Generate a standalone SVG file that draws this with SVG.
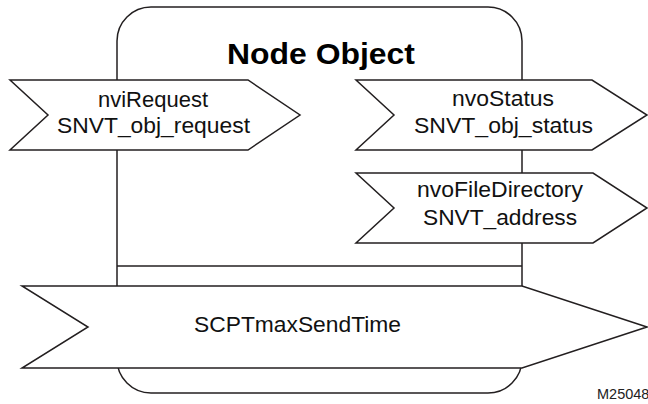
<svg xmlns="http://www.w3.org/2000/svg" width="648" height="404" viewBox="0 0 648 404">
<style>
.ln{fill:#fff;stroke:#231f20;stroke-width:1.5;stroke-linejoin:miter}
.t{font-family:"Liberation Sans",Arial,sans-serif;font-size:21.5px;fill:#111;text-anchor:middle}
.title{font-family:"Liberation Sans",Arial,sans-serif;font-size:30px;font-weight:bold;fill:#000;text-anchor:middle}
.id{font-family:"Liberation Sans",Arial,sans-serif;font-size:14.5px;fill:#222}
</style>
<rect width="648" height="404" fill="#fff"/>
<g id="node-object">
<rect class="ln" x="117" y="7" width="405" height="386" rx="34" ry="34"/>
<line class="ln" x1="117" y1="266" x2="522" y2="266"/>
<text class="title" x="321" y="64" textLength="188" lengthAdjust="spacingAndGlyphs">Node Object</text>
</g>
<g id="connectors"></g>
<g id="nviRequest">
<polygon class="ln" points="10,80 248,80 300,115 248,150 10,150 48,115"/>
<text class="t" x="153" y="107" textLength="110" lengthAdjust="spacingAndGlyphs">nviRequest</text>
<text class="t" x="153.5" y="133" textLength="193" lengthAdjust="spacingAndGlyphs">SNVT_obj_request</text>
</g>
<g id="nvoStatus">
<polygon class="ln" points="356,80 592,80 647,115 592,150 356,150 394,115"/>
<text class="t" x="503" y="106" textLength="102" lengthAdjust="spacingAndGlyphs">nvoStatus</text>
<text class="t" x="503.5" y="133" textLength="179" lengthAdjust="spacingAndGlyphs">SNVT_obj_status</text>
</g>
<g id="nvoFileDirectory">
<polygon class="ln" points="356,173 593,173 647,208 593,243 356,243 394,208"/>
<text class="t" x="500" y="197" textLength="166" lengthAdjust="spacingAndGlyphs">nvoFileDirectory</text>
<text class="t" x="500" y="225" textLength="154" lengthAdjust="spacingAndGlyphs">SNVT_address</text>
</g>
<g id="SCPTmaxSendTime">
<polygon class="ln" points="22,286 522,286 647,327 522,368 22,368 88,327"/>
<text class="t" x="297.5" y="332" textLength="207" lengthAdjust="spacingAndGlyphs">SCPTmaxSendTime</text>
</g>
<text class="id" x="597" y="399">M25048</text>
</svg>
